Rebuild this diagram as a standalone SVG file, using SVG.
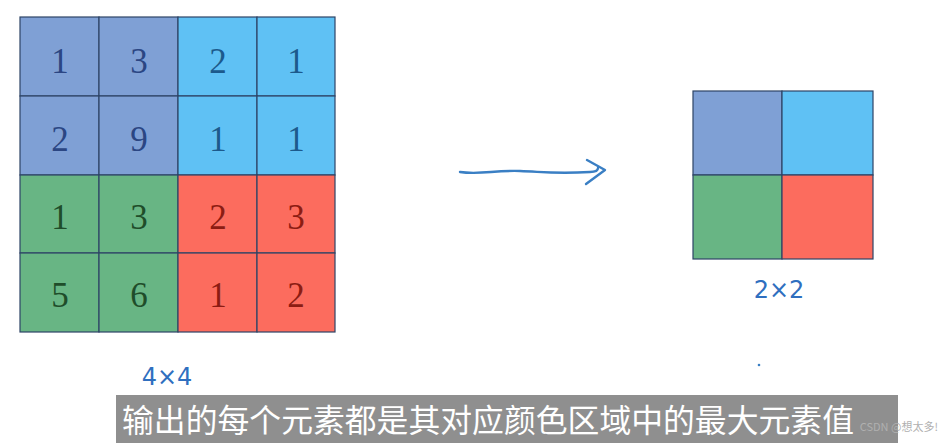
<svg xmlns="http://www.w3.org/2000/svg" width="945" height="443" viewBox="0 0 945 443">
<style>
.c{stroke:#2d4466;stroke-width:1.2}
.pb{fill:#7fa0d5}.lb{fill:#5fc1f4}.gr{fill:#68b584}.rd{fill:#fc6c5e}
.n{font-family:"Liberation Serif","DejaVu Serif",serif;font-size:35px;text-anchor:middle}
.tpb{fill:#2b4683}.tlb{fill:#1c5a8c}.tgr{fill:#1f4d2a}.trd{fill:#8c1c13}
.hw{font-family:"DejaVu Sans","Noto Sans",sans-serif;fill:#2f6fbf;font-size:24px;text-anchor:middle}
</style>
<rect width="945" height="443" fill="#ffffff"/>
<g id="input-grid">
<rect class="c pb" x="20" y="17" width="79" height="79"/>
<rect class="c pb" x="99" y="17" width="79" height="79"/>
<rect class="c lb" x="178" y="17" width="79" height="79"/>
<rect class="c lb" x="257" y="17" width="78" height="79"/>
<rect class="c pb" x="20" y="96" width="79" height="79"/>
<rect class="c pb" x="99" y="96" width="79" height="79"/>
<rect class="c lb" x="178" y="96" width="79" height="79"/>
<rect class="c lb" x="257" y="96" width="78" height="79"/>
<rect class="c gr" x="20" y="175" width="79" height="78"/>
<rect class="c gr" x="99" y="175" width="79" height="78"/>
<rect class="c rd" x="178" y="175" width="79" height="78"/>
<rect class="c rd" x="257" y="175" width="78" height="78"/>
<rect class="c gr" x="20" y="253" width="79" height="79"/>
<rect class="c gr" x="99" y="253" width="79" height="79"/>
<rect class="c rd" x="178" y="253" width="79" height="79"/>
<rect class="c rd" x="257" y="253" width="78" height="79"/>
<text class="n tpb" x="60" y="73">1</text>
<text class="n tpb" x="139" y="73">3</text>
<text class="n tlb" x="218" y="73">2</text>
<text class="n tlb" x="296" y="73">1</text>
<text class="n tpb" x="60" y="151">2</text>
<text class="n tpb" x="139" y="151">9</text>
<text class="n tlb" x="218" y="151">1</text>
<text class="n tlb" x="296" y="151">1</text>
<text class="n tgr" x="60" y="229">1</text>
<text class="n tgr" x="139" y="229">3</text>
<text class="n trd" x="218" y="229">2</text>
<text class="n trd" x="296" y="229">3</text>
<text class="n tgr" x="60" y="307">5</text>
<text class="n tgr" x="139" y="307">6</text>
<text class="n trd" x="218" y="307">1</text>
<text class="n trd" x="296" y="307">2</text>
</g>
<g id="output-grid">
<rect class="c pb" x="693" y="91" width="89" height="84"/>
<rect class="c lb" x="782" y="91" width="91" height="84"/>
<rect class="c gr" x="693" y="175" width="89" height="84"/>
<rect class="c rd" x="782" y="175" width="91" height="84"/>
</g>
<g id="connectors" fill="none" stroke="#3a7fc4" stroke-width="2.4" stroke-linecap="round" stroke-linejoin="round">
<path d="M460,172 C480,175 495,170 520,171 C545,172 555,174 590,172 C596,172 598,170 598,168"/>
<path d="M587,160 L605,170 L586,184"/>
</g>
<g id="labels">
<text class="hw" x="167" y="385">4×4</text>
<text class="hw" x="779" y="298">2×2</text>
<circle cx="759" cy="365" r="1.3" fill="#3a7fc4"/>
</g>
<g id="subtitle">
<rect x="116" y="395" width="782" height="48" fill="#8f8f8f"/>
<text x="122" y="432" fill="#ffffff" font-family="Noto Sans CJK SC,sans-serif" font-size="32" textLength="732" lengthAdjust="spacingAndGlyphs">输出的每个元素都是其对应颜色区域中的最大元素值</text>
<text x="938" y="431" fill="#b0b0b0" font-family="Noto Sans CJK SC,sans-serif" font-size="11" text-anchor="end">CSDN @想太多!</text>
</g>
</svg>
